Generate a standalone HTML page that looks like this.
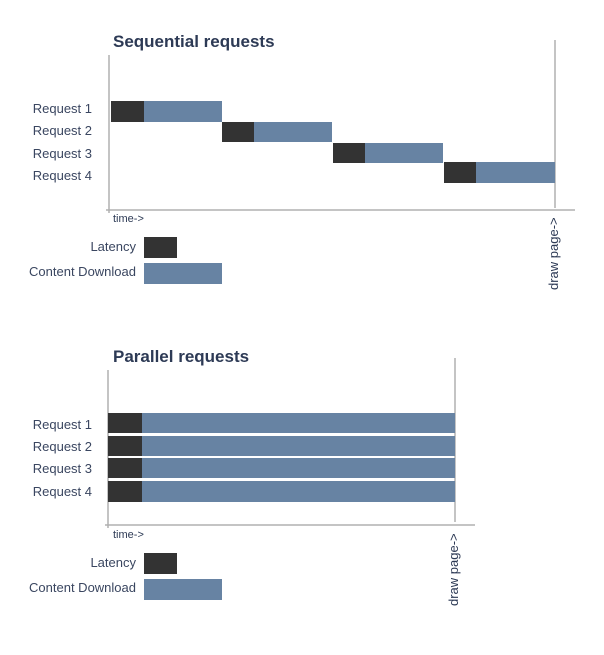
<!DOCTYPE html>
<html><head><style>
body{margin:0;width:604px;height:650px;background:#fff;position:relative;font-family:"Liberation Sans",sans-serif;overflow:hidden}
</style></head><body>
<svg width="604" height="650" xmlns="http://www.w3.org/2000/svg" font-family="Liberation Sans, sans-serif">
<g fill="#2d3a55">
<text x="113" y="47" font-size="17" font-weight="bold">Sequential requests</text>
<text x="113" y="362" font-size="17" font-weight="bold">Parallel requests</text>
</g>
<g fill="#3a4660" font-size="13" text-anchor="end">
<text x="92" y="113">Request 1</text>
<text x="92" y="135">Request 2</text>
<text x="92" y="158">Request 3</text>
<text x="92" y="180">Request 4</text>
<text x="92" y="429">Request 1</text>
<text x="92" y="451">Request 2</text>
<text x="92" y="473">Request 3</text>
<text x="92" y="496">Request 4</text>
<text x="136" y="251">Latency</text>
<text x="136" y="276">Content Download</text>
<text x="136" y="567">Latency</text>
<text x="136" y="592">Content Download</text>
</g>
<g fill="#2d3a55" font-size="11">
<text x="113" y="222">time-&gt;</text>
<text x="113" y="538">time-&gt;</text>
<text transform="translate(558,290) rotate(-90)" font-size="13">draw page-&gt;</text>
<text transform="translate(458,606) rotate(-90)" font-size="13">draw page-&gt;</text>
</g>
<g stroke="#b0b0b0" stroke-width="1.5">
<line x1="109" y1="55" x2="109" y2="213"/>
<line x1="106" y1="210" x2="575" y2="210"/>
<line x1="555" y1="40" x2="555" y2="208"/>
<line x1="108" y1="370" x2="108" y2="528"/>
<line x1="105" y1="525" x2="475" y2="525"/>
<line x1="455" y1="358" x2="455" y2="522"/>
</g>
<g fill="#333">
<rect x="111" y="101" width="33" height="21"/>
<rect x="222" y="122" width="32" height="20"/>
<rect x="333" y="143" width="32" height="20"/>
<rect x="444" y="162" width="32" height="21"/>
<rect x="108" y="413" width="34" height="20"/>
<rect x="108" y="436" width="34" height="20"/>
<rect x="108" y="458" width="34" height="20"/>
<rect x="108" y="481" width="34" height="21"/>
<rect x="144" y="237" width="33" height="21"/>
<rect x="144" y="553" width="33" height="21"/>
</g>
<g fill="#6783a3">
<rect x="144" y="101" width="78" height="21"/>
<rect x="254" y="122" width="78" height="20"/>
<rect x="365" y="143" width="78" height="20"/>
<rect x="476" y="162" width="79" height="21"/>
<rect x="142" y="413" width="313" height="20"/>
<rect x="142" y="436" width="313" height="20"/>
<rect x="142" y="458" width="313" height="20"/>
<rect x="142" y="481" width="313" height="21"/>
<rect x="144" y="263" width="78" height="21"/>
<rect x="144" y="579" width="78" height="21"/>
</g>
</svg>
</body></html>
